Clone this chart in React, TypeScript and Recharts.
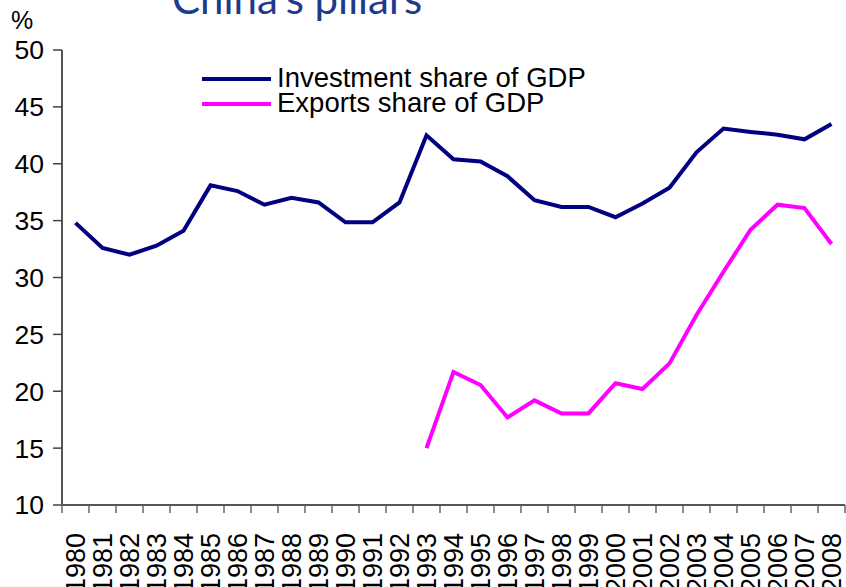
import { Legend, Line, LineChart, XAxis, YAxis } from 'recharts';

const years = [
  '1980', '1981', '1982', '1983', '1984', '1985', '1986', '1987', '1988', '1989',
  '1990', '1991', '1992', '1993', '1994', '1995', '1996', '1997', '1998', '1999',
  '2000', '2001', '2002', '2003', '2004', '2005', '2006', '2007', '2008',
];

const investment = [
  34.8, 32.6, 32.0, 32.8, 34.1, 38.1, 37.6, 36.4, 37.0, 36.6,
  34.85, 34.85, 36.6, 42.5, 40.4, 40.2, 38.9, 36.8, 36.2, 36.2,
  35.3, 36.5, 37.9, 41.0, 43.1, 42.8, 42.55, 42.15, 43.5,
];

const exports = [
  null, null, null, null, null, null, null, null, null, null,
  null, null, null, 15.0, 21.7, 20.55, 17.7, 19.2, 18.05, 18.05,
  20.7, 20.2, 22.45, 26.7, 30.5, 34.2, 36.4, 36.1, 32.95,
];

const yTicks = [10, 15, 20, 25, 30, 35, 40, 45, 50];

const data = years.map((year, i) => ({ year, investment: investment[i], exports: exports[i] }));

const FONT = '"Liberation Sans", Arial, sans-serif';
const BAND = 783 / years.length;

function YearTick(props: any) {
  const { x, y, payload, index } = props;
  const last = index === years.length - 1;
  return (
    <g>
      <line x1={x - BAND / 2} y1={y - 8} x2={x - BAND / 2} y2={y} stroke="#666" strokeWidth={1.5} />
      {last && <line x1={x + BAND / 2} y1={y - 8} x2={x + BAND / 2} y2={y} stroke="#666" strokeWidth={1.5} />}
      <text
        x={x}
        y={y + 20}
        transform={`rotate(-90, ${x}, ${y + 20})`}
        textAnchor="end"
        dy="0.36em"
        fontSize={27}
        fontFamily={FONT}
        fill="#000"
      >
        {payload.value}
      </text>
    </g>
  );
}

function LegendBox() {
  const items = [
    { label: 'Investment share of GDP', color: '#000080' },
    { label: 'Exports share of GDP', color: '#ff00ff' },
  ];
  return (
    <div style={{ fontFamily: FONT, fontSize: 27.5, lineHeight: '25px' }}>
      {items.map((it) => (
        <div key={it.label} style={{ display: 'flex', alignItems: 'center', whiteSpace: 'nowrap' }}>
          <span style={{ display: 'inline-block', width: 69, height: 4, background: it.color, marginRight: 6, marginTop: 3 }} />
          <span>{it.label}</span>
        </div>
      ))}
    </div>
  );
}

export default function App() {
  return (
    <div style={{ position: 'absolute', left: 0, top: 0, width: 846, height: 587, background: '#fff', overflow: 'hidden' }}>
      <div
        style={{
          position: 'absolute',
          left: 172,
          top: -27,
          fontFamily: 'Lato, "Open Sans", sans-serif',
          fontSize: 42,
          color: '#1c3a8e',
          whiteSpace: 'nowrap',
        }}
      >
        China's pillars
      </div>
      <div style={{ position: 'absolute', left: 11, top: 6, fontFamily: FONT, fontSize: 25 }}>%</div>
      <LineChart width={846} height={587} data={data} margin={{ top: 50, right: 1, left: 0, bottom: 0 }}>
        <XAxis
          dataKey="year"
          scale="band"
          interval={0}
          height={82}
          axisLine={{ stroke: '#555', strokeWidth: 2 }}
          tickLine={false}
          tick={<YearTick />}
        />
        <YAxis
          domain={[10, 50]}
          ticks={yTicks}
          interval={0}
          width={62}
          axisLine={{ stroke: '#555', strokeWidth: 2 }}
          tickLine={{ stroke: '#444', strokeWidth: 1.5 }}
          tickSize={9}
          tick={{ fontSize: 26.5, fontFamily: FONT, fill: '#000', dx: -7 }}
        />
        <Legend
          layout="vertical"
          verticalAlign="middle"
          align="center"
          wrapperStyle={{ left: 202, top: 65, width: 460 }}
          content={<LegendBox />}
        />
        <Line
          dataKey="investment"
          stroke="#000080"
          strokeWidth={4}
          dot={false}
          isAnimationActive={false}
        />
        <Line
          dataKey="exports"
          stroke="#ff00ff"
          strokeWidth={4}
          dot={false}
          isAnimationActive={false}
        />
      </LineChart>
    </div>
  );
}
